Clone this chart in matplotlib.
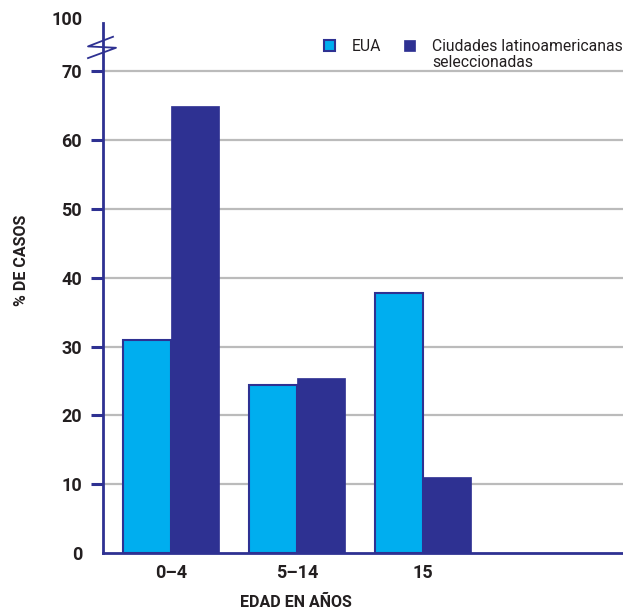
import numpy as np
import matplotlib.pyplot as plt

# edad de los casos, por grupo
grupos = ['0\u20134', '5\u201314', '15']
eua = [31, 24.4, 37.8]
latam = [65, 25.4, 11]
yticks = [0, 10, 20, 30, 40, 50, 60, 70]

azul_claro = '#00aeef'
azul_osc = '#2e3192'
gris_txt = '#231f20'

plt.rcParams['font.family'] = ['Roboto', 'DejaVu Sans']

fig = plt.figure(figsize=(6.23, 6.15), dpi=100)
ax = fig.add_axes([103/623, 62/615, 520/623, 530/615])

x = np.arange(len(grupos))
w = 0.38
ax.bar(x - w/2, eua, w, color=azul_claro, edgecolor=azul_osc, linewidth=1.5,
       label='EUA', zorder=3)
ax.bar(x + w/2, latam, w, color=azul_osc, edgecolor=azul_osc, linewidth=0.5,
       label='Ciudades latinoamericanas', zorder=3)

ax.set_xlim(-0.54, 3.59)
ax.set_ylim(0, 77)
ax.set_xticks(x)
ax.set_xticklabels(grupos)
ax.set_yticks(yticks)
ax.set_yticklabels([str(v) for v in yticks])

for lab in ax.get_xticklabels() + ax.get_yticklabels():
    lab.set_fontweight('bold')
    lab.set_fontsize(13)
    lab.set_color(gris_txt)

ax.tick_params(axis='x', length=0, pad=8)
ax.tick_params(axis='y', length=9, width=2.2, color=azul_osc, pad=6)
ax.yaxis.get_major_ticks()[0].tick1line.set_visible(False)

for v in yticks[1:]:
    ax.axhline(v, color='#bbbbbb', linewidth=1.6, zorder=1)

for s in ['top', 'right']:
    ax.spines[s].set_visible(False)
for s in ['left', 'bottom']:
    ax.spines[s].set_color(azul_osc)
    ax.spines[s].set_linewidth(2)

# etiqueta superior y corte del eje
ax.text(-0.04, 77.4, '100', transform=ax.get_yaxis_transform(), ha='right',
        va='center', fontsize=13, fontweight='bold', color=gris_txt)
zx = np.array([-15, 13, -15, 10]) / 520
zy = np.array([71.9, 73.4, 73.6, 75.0])
ax.plot(zx, zy, color=azul_osc, linewidth=1.3, clip_on=False,
        transform=ax.get_yaxis_transform(), zorder=5)

ax.set_ylabel('% DE CASOS', fontsize=11.5, fontweight='bold', color=gris_txt)
ax.yaxis.set_label_coords(-0.142, 0.553)
fig.text(296/623, 1 - 602/615, 'EDAD EN A\u00d1OS', ha='center', va='center',
         fontsize=11.5, fontweight='bold', color=gris_txt)

leg = fig.legend(loc='upper left', bbox_to_anchor=(324/623, 1 - 39/615),
                 ncol=2, frameon=False, fontsize=11.3, handlelength=0.7,
                 handleheight=0.7, handletextpad=1.05, columnspacing=1.5,
                 borderpad=0, borderaxespad=0)
for t in leg.get_texts():
    t.set_color(gris_txt)

# segunda línea de la etiqueta de la serie latinoamericana
fig.canvas.draw()
bb = leg.get_texts()[1].get_window_extent().transformed(fig.transFigure.inverted())
fig.text(bb.x0, bb.y0 - 0.002, 'seleccionadas', fontsize=11.3, color=gris_txt,
         va='top', ha='left')

fig.savefig('out.png', dpi=100, facecolor='white')
